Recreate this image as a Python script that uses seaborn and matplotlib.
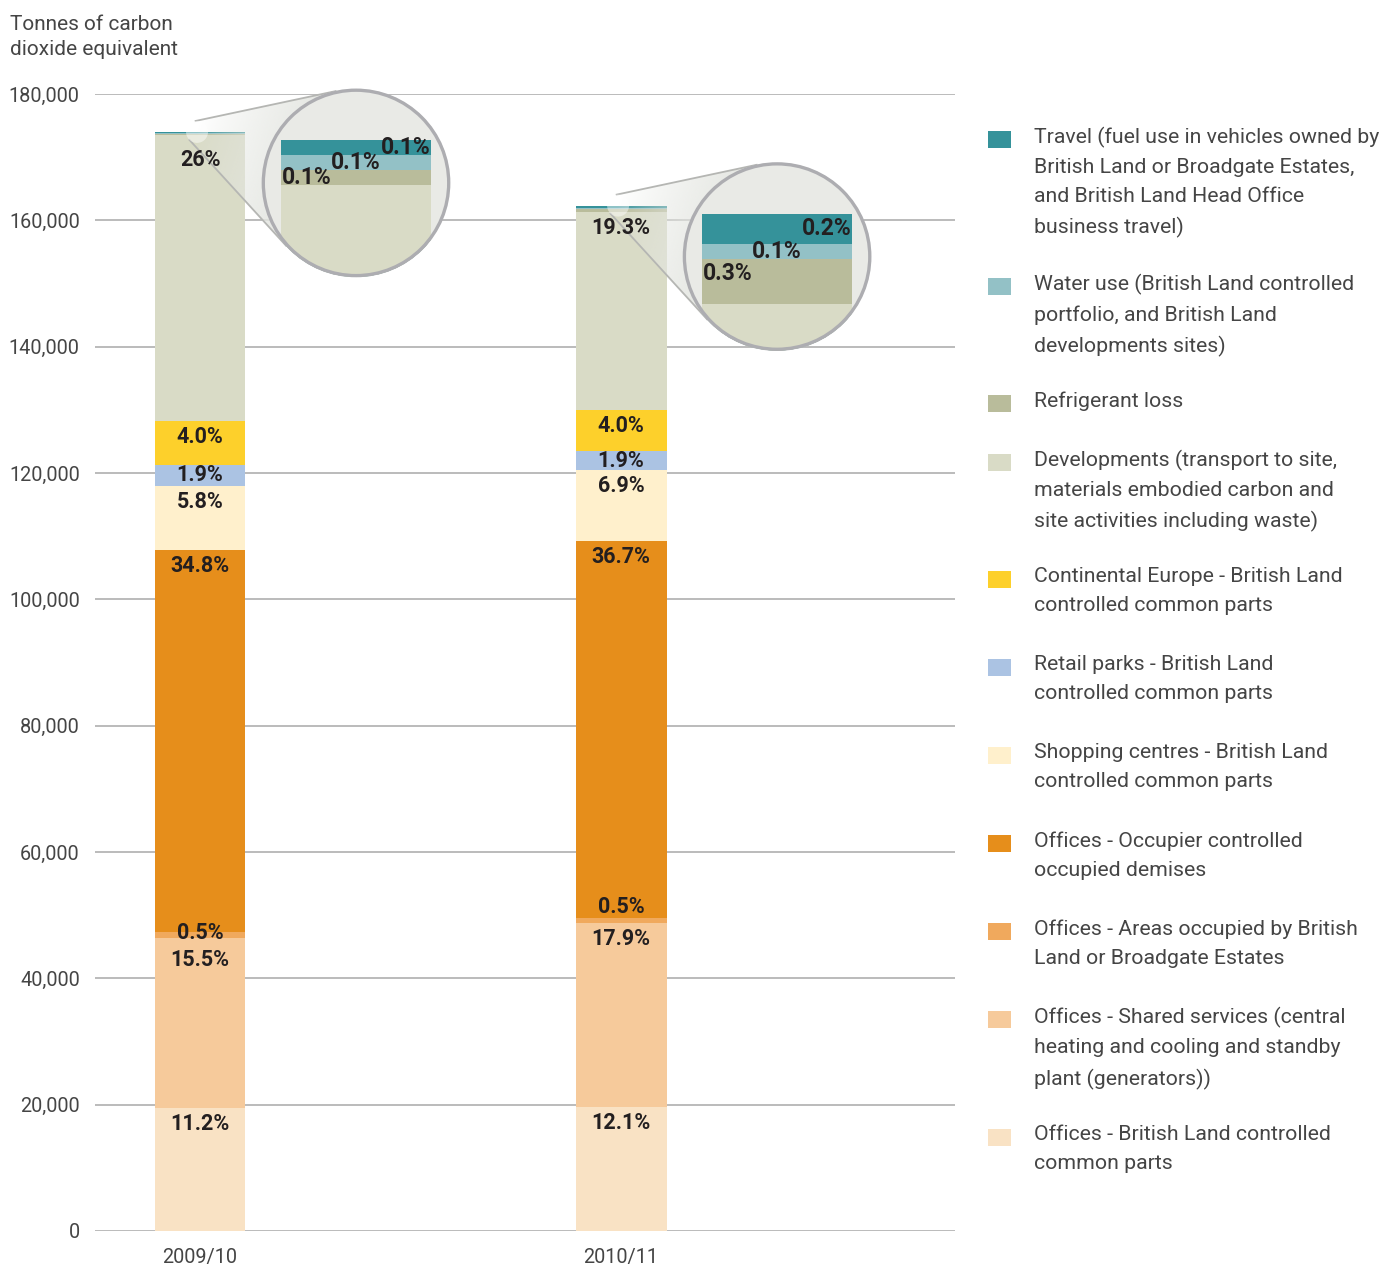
import numpy as np
import pandas as pd
import matplotlib
matplotlib.use("Agg")
import matplotlib.pyplot as plt
from matplotlib.patches import Circle, Polygon, Rectangle
import matplotlib.colors as mcolors
import seaborn as sns

# ---------------------------------------------------------------- data
years = ["2009/10", "2010/11"]
totals = [174000, 162500]  # tonnes CO2e per year

categories = [
    "Travel (fuel use in vehicles owned by\nBritish Land or Broadgate Estates,\nand British Land Head Office\nbusiness travel)",
    "Water use (British Land controlled\nportfolio, and British Land\ndevelopments sites)",
    "Refrigerant loss",
    "Developments (transport to site,\nmaterials embodied carbon and\nsite activities including waste)",
    "Continental Europe - British Land\ncontrolled common parts",
    "Retail parks - British Land\ncontrolled common parts",
    "Shopping centres - British Land\ncontrolled common parts",
    "Offices - Occupier controlled\noccupied demises",
    "Offices - Areas occupied by British\nLand or Broadgate Estates",
    "Offices - Shared services (central\nheating and cooling and standby\nplant (generators))",
    "Offices - British Land controlled\ncommon parts",
]

# share of each year's total, in percent (same order as categories, top of stack first)
pct_travel = ["0.1", "0.2"]
pct_water = ["0.1", "0.1"]
pct_refrigerant = ["0.1", "0.3"]
pct_developments = ["26", "19.3"]
pct_continental = ["4.0", "4.0"]
pct_retail_parks = ["1.9", "1.9"]
pct_shopping = ["5.8", "6.9"]
pct_occupier = ["34.8", "36.7"]
pct_bl_occupied = ["0.5", "0.5"]
pct_shared = ["15.5", "17.9"]
pct_bl_common = ["11.2", "12.1"]

colors = ["#35929a", "#93c1c6", "#b9bc9b", "#d9dbc6", "#fdd02b", "#abc3e3",
          "#fff0cc", "#e68e1b", "#f0a95d", "#f6ca9b", "#f9e2c4"]

pct_table = [pct_travel, pct_water, pct_refrigerant, pct_developments,
             pct_continental, pct_retail_parks, pct_shopping, pct_occupier,
             pct_bl_occupied, pct_shared, pct_bl_common]

rows = []
for i, (year, total) in enumerate(zip(years, totals)):
    base = 0.0
    for k in reversed(range(len(categories))):
        share = pct_table[k][i]
        value = float(share) / 100 * total
        rows.append(dict(year=year, yi=i, cat=k, pct=share, value=value,
                         bottom=base, top=base + value))
        base += value
df = pd.DataFrame(rows)

# ---------------------------------------------------------------- style
W, H = 1381, 1267
sns.set_style("white")
plt.rcParams["font.family"] = ["Roboto", "DejaVu Sans"]
TEXT = "#454545"
LABEL = "#231f20"


def draw_stack(axis, data, width, order):
    # tallest cumulative bar first, each lower segment painted over it
    for k in range(len(categories)):
        sub = data[data["cat"] == k]
        sns.barplot(data=sub, x="year", y="top", order=order, color=colors[k],
                    width=width, saturation=1, errorbar=None, linewidth=0,
                    ax=axis)


fig = plt.figure(figsize=(W / 100, H / 100), dpi=100)
fig.patch.set_facecolor("white")
ax = fig.add_axes([95 / W, 36 / H, 860 / W, 1137 / H])

draw_stack(ax, df, 0.216, years)
ax.set_xlim(-0.2494, 1.793)
ax.set_ylim(0, 180000)
ax.set_xlabel("")
ax.set_ylabel("")
yt = list(range(0, 180001, 20000))
ax.set_yticks(yt)
ax.set_yticklabels([f"{v:,}" for v in yt])
ax.tick_params(axis="y", length=0, pad=11, labelsize=14.3, labelcolor=TEXT)
ax.tick_params(axis="x", length=0, pad=12, labelsize=14.3, labelcolor=TEXT)
ax.yaxis.grid(True, color="#a8a8a8", linewidth=1.1)
ax.xaxis.grid(False)
ax.set_axisbelow(True)
sns.despine(ax=ax, left=True, bottom=True)

fig.text(10 / W, 1 - 15 / H, "Tonnes of carbon\ndioxide equivalent", ha="left",
         va="top", fontsize=15, color=TEXT, linespacing=1.42)

# overlay in pixel coordinates for magnifier cones, value labels and legend
ov = fig.add_axes([0, 0, 1, 1], zorder=1)
ov.set_xlim(0, W)
ov.set_ylim(0, H)
ov.set_axis_off()
ov.patch.set_visible(False)

ppt_main = (ax.transData.transform((0, 1e5))[1] - ax.transData.transform((0, 0))[1]) / 1e5

# value labels sit just under the top of each segment
nudge_px = {(0, 3): -9, (0, 8): 2, (0, 9): -6, (1, 8): 13}
for _, r in df[df["cat"] >= 3].iterrows():
    y = r["top"] - min(r["value"] / 2, 16 / ppt_main) + nudge_px.get((r["yi"], r["cat"]), 0) / ppt_main
    ov.text(r["yi"], y, r["pct"] + "%", transform=ax.transData, ha="center",
            va="center", fontsize=15.5, fontweight="bold", color=LABEL, zorder=5)

# magnifiers on the thin top segments
R_BIG, R_SMALL = 94, 11
BAR_PX = 150
TOP_OFFSET = 43
cone_rgb = mcolors.to_rgb("#e4e6e1")
for i, year in enumerate(years):
    sub = df[df["yi"] == i]
    total_top = sub["top"].max()
    bx, by = ax.transData.transform((i, total_top))
    c1 = np.array([bx - 3, by])
    c2 = np.array([bx + 156, by - 51])

    d = c2 - c1
    L = np.hypot(*d)
    u = d / L
    s = (R_BIG - R_SMALL) / L
    c = np.sqrt(1 - s * s)
    perp = np.array([-u[1], u[0]])
    na = -s * u + c * perp
    nb = -s * u - c * perp
    A1, A2 = c1 + R_SMALL * na, c2 + R_BIG * na
    B1, B2 = c1 + R_SMALL * nb, c2 + R_BIG * nb
    pts = np.array([A1, A2, B2, B1])
    poly = Polygon(pts, closed=True, transform=ov.transData, fc="none", ec="none")
    ov.add_patch(poly)

    x0, y0 = pts.min(axis=0)
    x1, y1 = pts.max(axis=0)
    nx, ny = 240, 240
    XX, YY = np.meshgrid(np.linspace(x0, x1, nx), np.linspace(y0, y1, ny))
    proj = np.clip(((XX - c1[0]) * u[0] + (YY - c1[1]) * u[1]) / (L - R_BIG * 0.6), 0, 1)
    img = np.zeros((ny, nx, 4))
    img[..., :3] = cone_rgb
    img[..., 3] = 0.95 * proj ** 0.8
    im = ov.imshow(img, extent=(x0, x1, y0, y1), origin="lower", aspect="auto",
                   interpolation="bilinear", zorder=1)
    im.set_clip_path(poly)
    for P, Q in ((A1, A2), (B1, B2)):
        ov.plot([P[0], Q[0]], [P[1], Q[1]], color="#b5b6b3", lw=1.3, zorder=2,
                solid_capstyle="butt")
    ov.add_patch(Circle(c1, R_SMALL, fc="white", ec="none", alpha=0.45, zorder=3))

    # zoomed copy of the bar inside the lens
    cx, cy = c2
    ax_in = fig.add_axes([(cx - R_BIG) / W, (cy - R_BIG) / H, 2 * R_BIG / W, 2 * R_BIG / H], zorder=2)
    ax_in.set_axis_off()
    ax_in.patch.set_visible(False)
    ppt_in = 15 / (0.001 * totals[i])  # 0.1 % of the total spans 15 px
    draw_stack(ax_in, sub, 1.0, [year])
    bars = list(ax_in.patches)
    half = 0.5 * 2 * R_BIG / BAR_PX
    ax_in.set_xlim(-half, half)
    ax_in.set_ylim(total_top - (R_BIG + TOP_OFFSET) / ppt_in,
                   total_top + (R_BIG - TOP_OFFSET) / ppt_in)
    clip = Circle((0.5, 0.5), 0.5, transform=ax_in.transAxes)
    for b in bars:
        b.set_clip_path(clip)
    ax_in.add_patch(Circle((0.5, 0.5), 0.5, transform=ax_in.transAxes,
                           fc="#e9eae6", ec="none", zorder=0))
    ax_in.add_patch(Circle((0.5, 0.5), 0.5 - 1.3 / (2 * R_BIG), transform=ax_in.transAxes,
                           fc="none", ec="#adadb1", lw=2.4, zorder=10, clip_on=False))
    for k, ha, xx in ((0, "right", 0.495), (1, "center", 0.0), (2, "left", -0.495)):
        r = sub[sub["cat"] == k].iloc[0]
        y = r["top"] - min(r["value"] / 2, 15 / ppt_in)
        ax_in.text(xx, y, r["pct"] + "%", ha=ha, va="center", fontsize=16.5,
                   fontweight="bold", color=LABEL, zorder=5)
    ax_in.set_xlabel("")
    ax_in.set_ylabel("")

# legend, handles aligned with the first line of each entry
y = H - 139
for k, name in enumerate(categories):
    nlines = name.count("\n") + 1
    ov.add_patch(Rectangle((988, y - 8.5), 23, 17, fc=colors[k], ec="none", zorder=4))
    ov.text(1034, y + 12.5, name, ha="left", va="top", fontsize=15.3, color=TEXT,
            linespacing=1.68, zorder=4)
    y -= nlines * 29.5 + 29

fig.savefig("out.png", dpi=100, facecolor="white")
